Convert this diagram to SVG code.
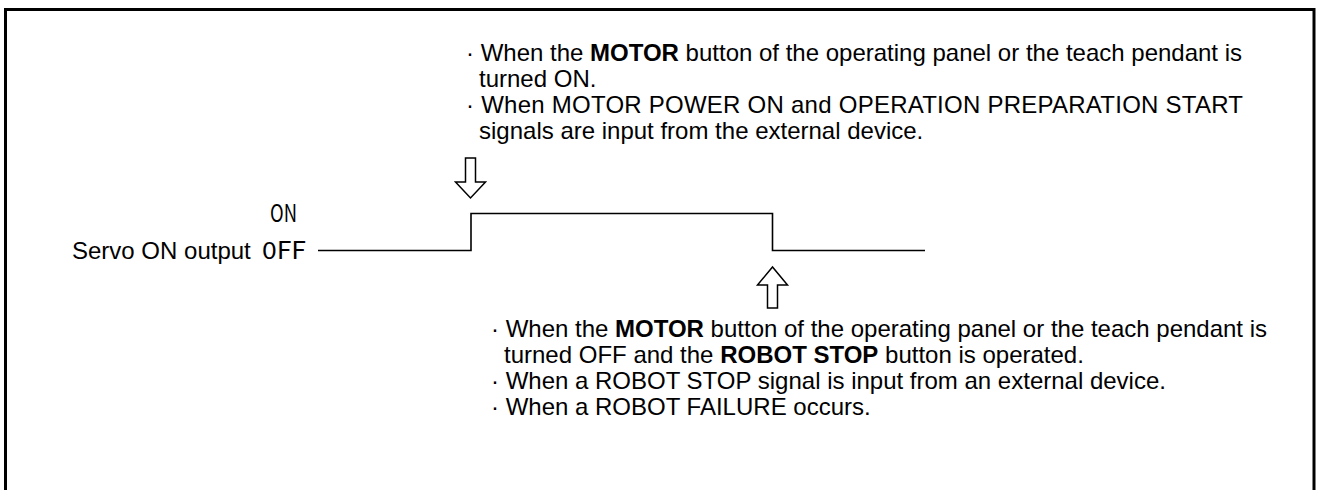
<svg xmlns="http://www.w3.org/2000/svg" width="1317" height="490" viewBox="0 0 1317 490">
  <style>
    .t { font-family: "Liberation Sans", Arial, sans-serif; font-size: 24px; fill: #000; }
    .b { font-weight: bold; }
    .lv { font-family: "Noto Sans CJK JP", "Liberation Sans", sans-serif; font-size: 24px; fill: #000; }
    .wave { fill: none; stroke: #000; stroke-width: 1.6; }
    .arrow { fill: #fff; stroke: #000; stroke-width: 1.5; stroke-linejoin: miter; }
    .frame { fill: none; stroke: #000; stroke-width: 3; }
  </style>
  <rect x="0" y="0" width="1317" height="490" fill="#fff"/>
  <path class="frame" d="M5.5,490 V9.5 H1314 V490"/>

  <g id="top-note">
    <text class="t" x="466" y="61">· When the <tspan class="b">MOTOR</tspan> button of the operating panel or the teach pendant is</text>
    <text class="t" x="479" y="87">turned ON.</text>
    <text class="t" x="466" y="113" textLength="777" lengthAdjust="spacing">· When MOTOR POWER ON and OPERATION PREPARATION START</text>
    <text class="t" x="479" y="139">signals are input from the external device.</text>
  </g>

  <g id="signal-label">
    <text class="t" x="72" y="259">Servo ON output</text>
    <text class="lv" x="270" y="222" textLength="27" lengthAdjust="spacingAndGlyphs">ON</text>
    <text class="lv" x="262" y="259" textLength="44" lengthAdjust="spacingAndGlyphs">0FF</text>
  </g>

  <g id="connectors">
    <path id="servo-waveform" class="wave" d="M318,250.5 H471 V213.5 H772.5 V250.5 H925"/>
    <path id="arrow-on" class="arrow" d="M465.5,158 H475.5 V182 H485.5 L470.5,198 L455.5,182 H465.5 Z"/>
    <path id="arrow-off" class="arrow" d="M767.5,308 H777.5 V285 H787.5 L772.5,267 L757.5,285 H767.5 Z"/>
  </g>

  <g id="bottom-note">
    <text class="t" x="491" y="337">· When the <tspan class="b">MOTOR</tspan> button of the operating panel or the teach pendant is</text>
    <text class="t" x="504" y="363">turned OFF and the <tspan class="b">ROBOT STOP</tspan> button is operated.</text>
    <text class="t" x="491" y="389">· When a ROBOT STOP signal is input from an external device.</text>
    <text class="t" x="491" y="415">· When a ROBOT FAILURE occurs.</text>
  </g>
</svg>
